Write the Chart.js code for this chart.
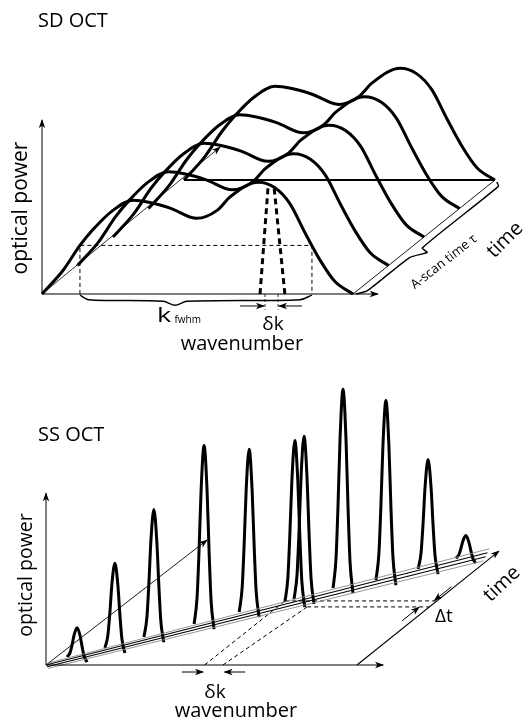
<!DOCTYPE html>
<html>
<head>
<meta charset="utf-8">
<script src="https://cdn.jsdelivr.net/npm/chart.js@4.4.1/dist/chart.umd.min.js"></script>
<style>
  html, body { margin: 0; padding: 0; background: #fff; }
  #wrap { position: relative; width: 526px; height: 725px; }
  canvas { position: absolute; left: 0; }
  #sd { top: 0; }
  #ss { top: 370px; }
</style>
</head>
<body>
<div id="wrap">
  <canvas id="sd" width="526" height="370"></canvas>
  <canvas id="ss" width="526" height="355"></canvas>
</div>
<script>
// ================= DATA =================
// SD-OCT: the broadband source spectrum (same for every A-scan)
const sdWavenumber = [0, 0.68, 1.22, 1.64, 2.28, 2.93, 3.47, 4.12, 4.98, 5.63, 6.05, 6.95, 7.49, 7.97, 8.46, 8.94, 9.42, 10];
const sdPower      = [0, 0.21, 0.43, 0.57, 0.74, 0.83, 0.81, 0.76, 0.67, 0.74, 0.86, 0.99, 0.94, 0.80, 0.54, 0.30, 0.11, 0];
const sdScanTime   = [0, 1, 2, 3, 4];            // A-scan index (units of τ)
const sdFwhmWavenumber = [1.22, 8.68];           // k_fwhm limits
const sdFwhmPower = 0.43;                        // half-maximum level
const sdLineLeft   = [7.01, 7.27];               // dashed narrow spectral line, left edge (bottom, top)
const sdLineRight  = [7.81, 7.46];               // right edge (bottom, top)
const sdLineTop    = 0.95;
const sdDeltaK     = [7.17, 7.59];               // δk markers

// SS-OCT: swept narrow line, one peak per instant
const ssWavenumber = [0.68, 1.53, 2.35, 3.44, 4.41, 5.48, 5.65, 6.47, 7.53, 8.44, 9.22];
const ssTime       = [0.28, 0.60, 0.98, 1.44, 1.86, 2.21, 2.32, 2.70, 2.98, 3.37, 3.75];
const ssPower      = [0.26, 0.75, 1.13, 1.58, 1.44, 1.43, 1.44, 1.76, 1.59, 0.97, 0.20];
// instantaneous line shape (offset in wavenumber, relative power, foot drop)
const lineOffset  = [-0.32, -0.225, -0.16, -0.096, 0, 0.096, 0.16, 0.225, 0.32];
const lineProfile = [0, 0.15, 0.42, 0.75, 1, 0.75, 0.42, 0.15, 0];
const lineFoot    = [0, 0, 0, 0, 0, -0.005, -0.015, -0.03, -0.045];
// sweep trace lines (start / end wavenumber and time)
const sweepK0 = [0, 0, 0.1, 0.2];
const sweepT0 = [0.07, 0, -0.06, -0.12];
const sweepK1 = [9.6, 9.7, 9.8, 9.9];
const sweepT1 = [4.08, 3.94, 3.80, 3.66];
const sweepColor = ['#8a8a8a', '#000', '#000', '#8a8a8a'];
// δk / Δt construction
const ssDeltaK = [5.1, 5.69];
const ssDeltaKEnd = [5.12, 6.07];
const ssDeltaT = [2.25, 2.04];

// ================= LAYOUT =================
const FONT = '"Open Sans", "DejaVu Sans", sans-serif';
const TX = 1.141, TY = 0.252;    // oblique projection of one τ of time onto (k, power)
function place(k, t, p) { return { x: k + t * TX, y: p + t * TY }; }
function line(points, opts) {
  return Object.assign({ data: points, showLine: true, pointRadius: 0, pointHoverRadius: 0,
    borderColor: '#000', borderWidth: 1, fill: false, clip: false, tension: 0 }, opts || {});
}

const arrowPlugin = {
  id: 'arrows',
  afterDatasetsDraw(chart) {
    const ctx = chart.ctx;
    chart.data.datasets.forEach((ds, i) => {
      if (!ds.arrow) return;
      const pts = chart.getDatasetMeta(i).data;
      const a = pts[pts.length - 2], b = pts[pts.length - 1];
      const ang = Math.atan2(b.y - a.y, b.x - a.x);
      const L = ds.arrowLen || 8, W = ds.arrowWidth || 3.2;
      ctx.save();
      ctx.translate(b.x, b.y); ctx.rotate(ang);
      ctx.beginPath(); ctx.moveTo(1, 0); ctx.lineTo(-L, -W); ctx.lineTo(-L * 0.72, 0); ctx.lineTo(-L, W); ctx.closePath();
      ctx.fillStyle = '#000'; ctx.fill();
      ctx.restore();
    });
  }
};
function textPlugin(items) {
  return {
    id: 'texts',
    afterDraw(chart) {
      const ctx = chart.ctx;
      items.forEach(it => {
        ctx.save();
        ctx.translate(it.x, it.y);
        ctx.rotate((it.rot || 0) * Math.PI / 180);
        if (it.sx) ctx.scale(it.sx, 1);
        ctx.font = it.size + 'px ' + FONT;
        ctx.fillStyle = '#000';
        ctx.textAlign = it.align || 'center';
        ctx.textBaseline = it.base || 'alphabetic';
        ctx.fillText(it.text, 0, 0);
        ctx.restore();
      });
    }
  };
}
function baseOptions(xmin, xmax, ymin, ymax) {
  return {
    responsive: false, animation: false, devicePixelRatio: 1, events: [],
    layout: { padding: 0 },
    plugins: { legend: { display: false }, tooltip: { enabled: false }, title: { display: false } },
    scales: {
      x: { type: 'linear', display: false, min: xmin, max: xmax },
      y: { type: 'linear', display: false, min: ymin, max: ymax }
    }
  };
}

// ================= SD OCT =================
const sdSets = [];
sdSets.push(line([place(0, 0, 0), place(0, 0, 1.54)], { arrow: true, borderWidth: 1 }));
sdSets.push(line([place(0, 0, 0), place(10.8, 0, 0)], { arrow: true, borderWidth: 1.2 }));
sdSets.push(line([place(0, 0, 0), place(-0.16, 5.16, 0)], { arrow: true, borderWidth: 0.8 }));
sdSets.push(line([place(10, 0, 0), place(10, 4, 0)], { borderWidth: 0.9 }));
sdSets.push(line([place(0, 4, 0), place(10, 4, 0)], { borderWidth: 2 }));
sdSets.push(line([place(sdFwhmWavenumber[0], 0, 0), place(sdFwhmWavenumber[0], 0, sdFwhmPower),
                  place(sdFwhmWavenumber[1], 0, sdFwhmPower), place(sdFwhmWavenumber[1], 0, 0)],
                 { borderDash: [4, 3], borderWidth: 1 }));
// k_fwhm brace
sdSets.push(line([place(1.22, 0, -0.01), place(1.5, 0, -0.05), place(3.9, 0, -0.065), place(4.28, 0, -0.1),
                  place(4.66, 0, -0.065), place(8.3, 0, -0.05), place(8.68, 0, -0.01)],
                 { borderWidth: 1.5, tension: 0.3 }));
// A-scan time brace
sdSets.push(line([place(10.1, 0, 0), place(10.33, 0.12, 0), place(10.36, 1.28, 0), place(10.72, 1.46, 0),
                  place(10.38, 1.62, 0), place(10.36, 3.78, 0), place(10.14, 3.93, 0)],
                 { borderWidth: 1.4, tension: 0.2 }));
// spectra, one per A-scan
sdScanTime.forEach(t => {
  sdSets.push(line(sdWavenumber.map((k, j) => place(k, t, sdPower[j])),
                   { borderWidth: 3, cubicInterpolationMode: 'monotone' }));
});
// narrow dashed line (δk)
sdSets.push(line([place(sdLineLeft[0], 0, 0), place(sdLineLeft[1], 0, sdLineTop)], { borderWidth: 3, borderDash: [6, 4] }));
sdSets.push(line([place(sdLineRight[0], 0, 0), place(sdLineRight[1], 0, sdLineTop)], { borderWidth: 3, borderDash: [6, 4] }));
sdSets.push(line([place(sdDeltaK[0], 0, 0), place(sdDeltaK[0], 0, -0.14)], { borderWidth: 0.8, borderDash: [3, 2] }));
sdSets.push(line([place(sdDeltaK[1], 0, 0), place(sdDeltaK[1], 0, -0.14)], { borderWidth: 0.8, borderDash: [3, 2] }));
sdSets.push(line([place(6.37, 0, -0.106), place(sdDeltaK[0] - 0.03, 0, -0.106)], { arrow: true, borderWidth: 1 }));
sdSets.push(line([place(8.36, 0, -0.106), place(sdDeltaK[1] + 0.03, 0, -0.106)], { arrow: true, borderWidth: 1 }));

new Chart(document.getElementById('sd'), {
  type: 'scatter',
  data: { datasets: sdSets },
  options: baseOptions(-42 / 31.1, 484 / 31.1, -76 / 113, 294 / 113),
  plugins: [arrowPlugin, textPlugin([
    { text: 'SD OCT', x: 38, y: 27, size: 20, align: 'left' },
    { text: 'optical power', x: 21.5, y: 208, size: 21, rot: -90, base: 'middle' },
    { text: 'k', x: 157, y: 322, size: 20, align: 'left', sx: 1.35 },
    { text: 'fwhm', x: 174.5, y: 323, size: 10, align: 'left' },
    { text: 'δk', x: 273, y: 330, size: 19 },
    { text: 'wavenumber', x: 242, y: 350, size: 20 },
    { text: 'time', x: 505, y: 240, size: 20, rot: -45, base: 'middle' },
    { text: 'A-scan time τ', x: 444, y: 262, size: 13, rot: -38, base: 'middle' }
  ])]
});

// ================= SS OCT =================
const ssSets = [];
ssSets.push(line([place(0, 0, 0), place(0, 0, 1.52)], { arrow: true, borderWidth: 1 }));
ssSets.push(line([place(0, 0, 0), place(10.84, 0, 0)], { arrow: true, borderWidth: 1.2 }));
ssSets.push(line([place(10, 0, 0), place(10, 4, 0)], { arrow: true, borderWidth: 1.1 }));
ssSets.push(line([place(0, 0, 0), place(0.17, 4.39, 0)], { arrow: true, borderWidth: 0.9 }));
sweepK0.forEach((k0, i) => {
  ssSets.push(line([place(k0, sweepT0[i], 0), place(sweepK1[i], sweepT1[i], 0)],
                   { borderColor: sweepColor[i], borderWidth: sweepColor[i] === '#000' ? 1.1 : 0.9 }));
});
ssWavenumber.forEach((k0, i) => {
  ssSets.push(line(lineOffset.map((dk, j) => place(k0 + dk, ssTime[i], ssPower[i] * lineProfile[j] + lineFoot[j])),
                   { borderWidth: 3, cubicInterpolationMode: 'monotone' }));
});
// δk construction (dashed)
ssSets.push(line([place(ssDeltaK[0], 0, 0), place(ssDeltaKEnd[0], ssDeltaT[0], 0)], { borderWidth: 1, borderDash: [4, 3] }));
ssSets.push(line([place(ssDeltaK[1], 0, 0), place(ssDeltaKEnd[1], ssDeltaT[1], 0)], { borderWidth: 1, borderDash: [4, 3] }));
ssSets.push(line([place(ssDeltaKEnd[0], ssDeltaT[0], 0), place(10, ssDeltaT[0], 0)], { borderWidth: 1, borderDash: [4, 3] }));
ssSets.push(line([place(ssDeltaKEnd[1], ssDeltaT[1], 0), place(10, ssDeltaT[1], 0)], { borderWidth: 1, borderDash: [4, 3] }));
ssSets.push(line([place(4.37, 0, -0.062), place(ssDeltaK[0] - 0.05, 0, -0.062)], { arrow: true, borderWidth: 1 }));
ssSets.push(line([place(6.40, 0, -0.062), place(ssDeltaK[1] + 0.05, 0, -0.062)], { arrow: true, borderWidth: 1 }));
ssSets.push(line([place(9.9, 2.75, 0), place(9.9, ssDeltaT[0] + 0.02, 0)], { arrow: true, borderWidth: 1 }));
ssSets.push(line([place(9.68, 1.55, 0), place(9.68, ssDeltaT[1] - 0.01, 0)], { arrow: true, borderWidth: 1 }));

new Chart(document.getElementById('ss'), {
  type: 'scatter',
  data: { datasets: ssSets },
  options: baseOptions(-46 / 31.1, 480 / 31.1, -60 / 113, 295 / 113),
  plugins: [arrowPlugin, textPlugin([
    { text: 'SS OCT', x: 38, y: 71, size: 20, align: 'left' },
    { text: 'optical power', x: 26, y: 205, size: 19.5, rot: -90, base: 'middle' },
    { text: 'time', x: 502, y: 214, size: 20, rot: -43, base: 'middle' },
    { text: 'Δt', x: 444, y: 252, size: 19 },
    { text: 'δk', x: 215, y: 328, size: 19 },
    { text: 'wavenumber', x: 236, y: 347, size: 20 }
  ])]
});
</script>
</body>
</html>
